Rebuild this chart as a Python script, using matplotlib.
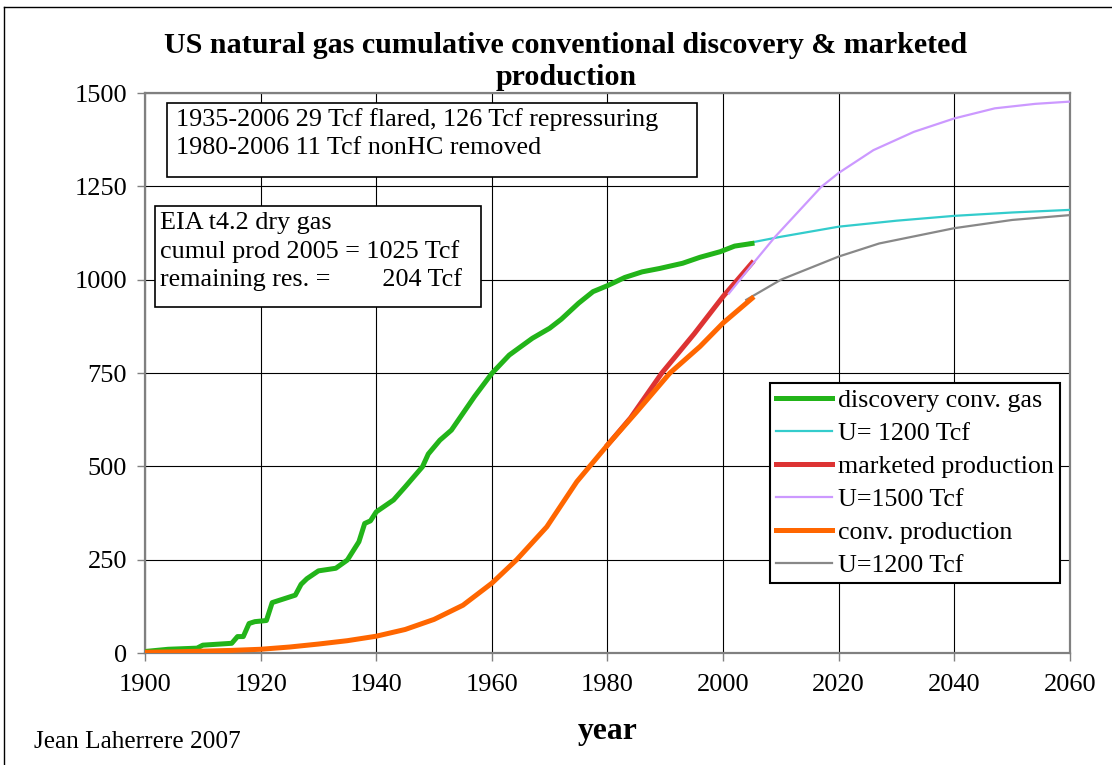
import matplotlib
matplotlib.use("Agg")
import matplotlib.pyplot as plt
from matplotlib.patches import Rectangle
from matplotlib.lines import Line2D

plt.rcParams['font.family'] = ['Liberation Serif', 'DejaVu Serif']

# cumulative conventional discovery (Tcf)
disc_years = [1900, 1904, 1909, 1910, 1915, 1916, 1917, 1918, 1919, 1921, 1922, 1923, 1926, 1927,
              1928, 1930, 1933, 1935, 1937, 1938, 1939, 1940, 1943, 1945, 1948, 1949, 1951, 1953,
              1955, 1957, 1960, 1963, 1967, 1970, 1972, 1975, 1977.5, 1980, 1983, 1986, 1989,
              1993, 1996, 1999.5, 2002, 2005]
disc_vals = [4, 10, 13, 21, 26, 44, 44, 79, 84, 87, 135, 140, 155, 184,
             199, 220, 227, 249, 298, 347, 354, 378, 410, 445, 499, 533, 570, 597,
             642, 687, 749, 798, 843, 870, 894, 937, 968, 984, 1006, 1021, 1030,
             1044, 1060, 1075, 1090, 1097]

# discovery model U=1200 Tcf
disc_fit_years = [2004, 2010, 2020, 2030, 2040, 2050, 2060]
disc_fit_vals = [1097, 1115, 1142, 1158, 1171, 1180, 1187]

# marketed production
mkt_years = [1980, 1984, 1989.4, 1995, 2000, 2005]
mkt_vals = [557, 630, 750, 855, 955, 1045]

# marketed production model U=1500 Tcf
mkt_fit_years = [2001, 2005, 2009, 2013, 2017, 2020, 2026, 2033, 2040, 2047, 2054, 2060]
mkt_fit_vals = [963, 1040, 1115, 1182, 1249, 1286, 1347, 1396, 1432, 1459, 1471, 1477]

# conventional production
conv_years = [1900, 1905, 1910, 1915, 1920, 1925, 1930, 1935, 1940, 1945, 1950, 1955,
              1960, 1964.3, 1969.5, 1974.7, 1980, 1985, 1990.8, 1996, 2000, 2005]
conv_vals = [2, 3, 5, 7, 10, 16, 24, 33, 45, 63, 90, 128,
             187, 250, 338, 459, 557, 645, 750, 821, 884, 950]

# conventional production model U=1200 Tcf
conv_fit_years = [2004, 2010, 2020, 2027, 2040, 2050, 2060]
conv_fit_vals = [946, 1000, 1062, 1097, 1138, 1160, 1173]

fig = plt.figure(figsize=(11.12, 7.65), dpi=100)
ax = fig.add_axes([0.1304, 0.1464, 0.8318, 0.732])

ax.plot(disc_years, disc_vals, color='#22b419', lw=3.6, label='discovery conv. gas', zorder=5)
ax.plot(disc_fit_years, disc_fit_vals, color='#33cccc', lw=1.6, label='U= 1200 Tcf', zorder=4)
ax.plot(mkt_years, mkt_vals, color='#dd3333', lw=3.6, label='marketed production', zorder=5)
ax.plot(mkt_fit_years, mkt_fit_vals, color='#cc99ff', lw=1.6, label='U=1500 Tcf', zorder=6)
ax.plot(conv_years, conv_vals, color='#ff6600', lw=3.6, label='conv. production', zorder=5)
ax.plot(conv_fit_years, conv_fit_vals, color='#888888', lw=1.6, label='U=1200 Tcf', zorder=4)

ax.set_xlim(1900, 2060)
ax.set_ylim(0, 1500)
ax.set_xticks(range(1900, 2061, 20))
ax.set_yticks(range(0, 1501, 250))
ax.grid(True, color='black', lw=0.8)
ax.set_axisbelow(True)
for sp in ax.spines.values():
    sp.set_color('#808080')
    sp.set_linewidth(1.6)
ax.tick_params(axis='both', labelsize=19, length=6, color='#808080', width=1, pad=7)
ax.tick_params(axis='x', pad=9)

# info boxes
ax.add_patch(Rectangle((0.0238, 0.85), 0.573, 0.132, transform=ax.transAxes,
                       facecolor='white', edgecolor='black', lw=1.2, zorder=7))
ax.text(0.0335, 0.952, '1935-2006 29 Tcf flared, 126 Tcf repressuring', transform=ax.transAxes,
        fontsize=18.8, va='center', zorder=8)
ax.text(0.0335, 0.902, '1980-2006 11 Tcf nonHC removed', transform=ax.transAxes,
        fontsize=18.8, va='center', zorder=8)

ax.add_patch(Rectangle((0.0108, 0.618), 0.3524, 0.18, transform=ax.transAxes,
                       facecolor='white', edgecolor='black', lw=1.2, zorder=7))
box2 = ['EIA t4.2 dry gas', 'cumul prod 2005 = 1025 Tcf', 'remaining res. =        204 Tcf']
for i, s in enumerate(box2):
    ax.text(0.0162, 0.768 - i * 0.0505, s, transform=ax.transAxes,
            fontsize=18.8, va='center', zorder=8)

handles, labels = ax.get_legend_handles_labels()
leg = ax.legend(handles, labels, loc='upper left', bbox_to_anchor=(0.6757, 0.482),
                borderaxespad=0, fontsize=18.7, frameon=True, fancybox=False,
                edgecolor='black', framealpha=1, handlelength=2.15, handletextpad=0.25,
                labelspacing=0.38, borderpad=0.22)
leg.get_frame().set_linewidth(1.5)
leg.set_zorder(10)

fig.text(0.509, 0.941, 'US natural gas cumulative conventional discovery & marketed',
         ha='center', va='center', fontsize=21.6, fontweight='bold')
fig.text(0.509, 0.899, 'production', ha='center', va='center', fontsize=21.6, fontweight='bold')
fig.text(0.546, 0.044, 'year', ha='center', va='center', fontsize=22.8, fontweight='bold')
fig.text(0.031, 0.030, 'Jean Laherrere 2007', ha='left', va='center', fontsize=18.2)

# outer frame of the chart
fig.add_artist(Line2D([0.004, 0.004], [0, 0.991], color='black', lw=1, transform=fig.transFigure))
fig.add_artist(Line2D([0.004, 1.0], [0.991, 0.991], color='black', lw=1, transform=fig.transFigure))

fig.savefig('out.png', dpi=100)
